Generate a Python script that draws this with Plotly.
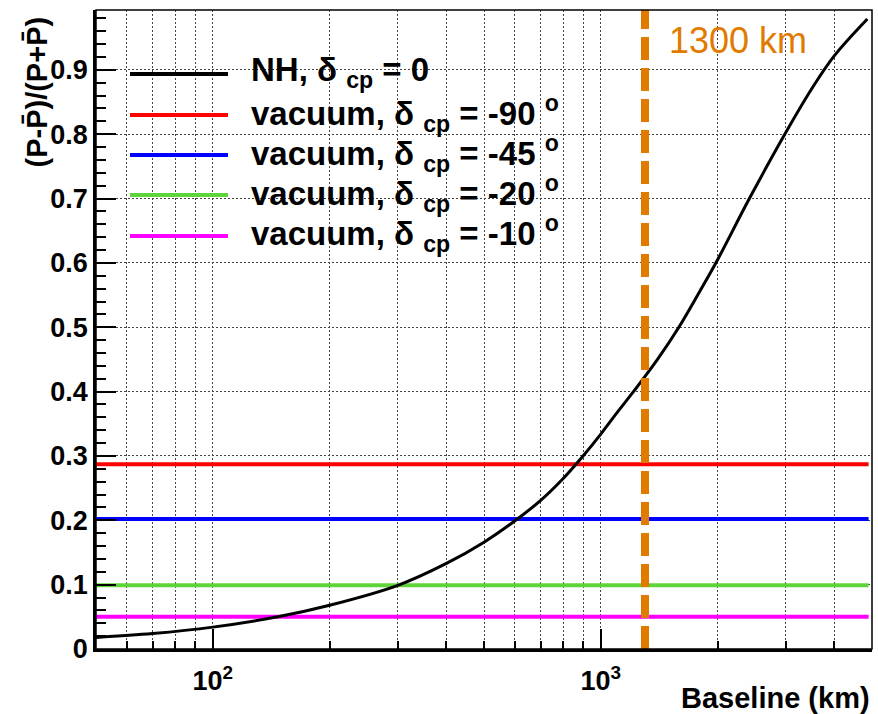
import math
import plotly.graph_objects as go

# ---- data ----
baseline_km = [50, 70, 100, 147, 200, 300, 400, 500, 600, 700, 800, 900, 1000, 1100,
               1218, 1400, 1589, 1800, 2000, 2415, 3000, 3500, 4000, 4864]
asym_nh = [0.018, 0.024, 0.034, 0.050, 0.068, 0.099, 0.133, 0.166, 0.199, 0.231,
           0.265, 0.300, 0.334, 0.367, 0.401, 0.450, 0.500, 0.556, 0.605, 0.700,
           0.803, 0.871, 0.922, 0.979]
nh_label = "NH, δ <sub>cp</sub> = 0"

vacuum_delta = ["-90", "-45", "-20", "-10"]
vacuum_asym = [0.287, 0.202, 0.099, 0.050]
vacuum_span_km = [50, 4900]

marker_km = 1300
marker_label = "1300 km"

y_ticks = [0, 0.1, 0.2, 0.3, 0.4, 0.5, 0.6, 0.7, 0.8, 0.9]
y_ticktext = ["0", "0.1", "0.2", "0.3", "0.4", "0.5", "0.6", "0.7", "0.8", "0.9"]
x_major = [100, 1000]
x_major_text = ["10<sup>2</sup>", "10<sup>3</sup>"]
x_minor = [60, 70, 80, 90, 200, 300, 400, 500, 600, 700, 800, 900, 2000, 3000, 4000]
x_range = [50, 5000]
y_range = [0, 0.993]

# ---- styles ----
FONT = "Liberation Sans"
nh_color = "black"
vac_colors = ["#ff0000", "#0000ff", "#5fd33a", "#ff00ff"]
orange = "#e07b00"

W, H = 878, 714
ML, MR, MT, MB = 96, 6, 10, 65
PW, PH = W - ML - MR, H - MT - MB


def px2paper(px, py):
    return (px - ML) / PW, (H - MB - py) / PH


fig = go.Figure()

for val, col in zip(vacuum_asym, vac_colors):
    fig.add_trace(go.Scatter(x=vacuum_span_km, y=[val, val], mode="lines",
                             line=dict(color=col, width=4), showlegend=False,
                             hoverinfo="skip"))

fig.add_trace(go.Scatter(x=baseline_km, y=asym_nh, mode="lines",
                         line=dict(color=nh_color, width=3, shape="spline", smoothing=1.0),
                         showlegend=False))

fig.add_trace(go.Scatter(x=[marker_km, marker_km], y=y_range, mode="lines",
                         line=dict(color=orange, width=8, dash="23px,8px"),
                         showlegend=False, hoverinfo="skip"))

annotations = []
shapes = []

# 1300 km label
lx, ly = px2paper(667, 40)
annotations.append(dict(text=marker_label, xref="paper", yref="paper", x=lx, y=ly,
                        xanchor="left", yanchor="middle", showarrow=False,
                        font=dict(family=FONT, size=36, color=orange)))

# manual legend (long line samples like the original)
legend_names = [nh_label] + ["vacuum, δ <sub>cp</sub> = %s <sup>o</sup>" % d for d in vacuum_delta]
legend_colors = [nh_color] + vac_colors
row_y = [74, 115, 155, 195, 236]
for name, col, ry in zip(legend_names, legend_colors, row_y):
    x0, y0 = px2paper(130, ry)
    x1, _ = px2paper(228, ry)
    shapes.append(dict(type="line", xref="paper", yref="paper", x0=x0, x1=x1, y0=y0, y1=y0,
                       line=dict(color=col, width=4)))
    tx, ty = px2paper(249, ry - 2)
    annotations.append(dict(text=name, xref="paper", yref="paper", x=tx, y=ty,
                            xanchor="left", yanchor="middle", showarrow=False,
                            font=dict(family=FONT, size=33, color="black", weight="bold")))

# y axis title (top aligned, rotated)
annotations.append(dict(text="(P-P\u0304)/(P+P\u0304)", xref="paper", yref="paper",
                        x=(36 - ML) / PW, y=px2paper(0, 15)[1], xanchor="center", yanchor="top",
                        textangle=-90, showarrow=False,
                        font=dict(family=FONT, size=29, color="black", weight="bold")))
# x axis title (right aligned)
annotations.append(dict(text="Baseline (km)", xref="paper", yref="paper",
                        x=1.0, y=-(698 - (H - MB)) / PH, xanchor="right", yanchor="middle",
                        showarrow=False,
                        font=dict(family=FONT, size=29, color="black", weight="bold")))

# thin frame on top/right
shapes.append(dict(type="rect", xref="paper", yref="paper", x0=0, x1=1, y0=0, y1=1,
                   line=dict(color="black", width=1.5)))

grid_dash = "2px,2px"
fig.update_layout(
    width=W, height=H,
    margin=dict(l=ML, r=MR, t=MT, b=MB),
    paper_bgcolor="white", plot_bgcolor="white",
    showlegend=False,
    annotations=annotations, shapes=shapes,
    xaxis=dict(type="log", range=[math.log10(x_range[0]), math.log10(x_range[1])],
               tickmode="array", tickvals=x_major, ticktext=x_major_text,
               ticks="inside", ticklen=20, tickwidth=1.5, tickcolor="black",
               showline=True, linecolor="black", linewidth=2.5,
               showgrid=True, gridcolor="#444", gridwidth=1, griddash=grid_dash,
               tickfont=dict(family=FONT, size=27, color="black", weight="bold"),
               ticklabelstandoff=6,
               minor=dict(tickmode="array", tickvals=x_minor, ticks="inside", ticklen=8,
                          tickwidth=1.5, tickcolor="black", showgrid=True,
                          gridcolor="#444", gridwidth=1, griddash=grid_dash),
               zeroline=False),
    yaxis=dict(range=y_range, tickmode="array", tickvals=y_ticks, ticktext=y_ticktext,
               ticks="inside", ticklen=20, tickwidth=1.5, tickcolor="black",
               showline=True, linecolor="black", linewidth=2.5,
               showgrid=True, gridcolor="#444", gridwidth=1, griddash=grid_dash,
               tickfont=dict(family=FONT, size=27, color="black", weight="bold"),
               minor=dict(dtick=0.02, ticks="inside", ticklen=10, tickwidth=1.5,
                          tickcolor="black", showgrid=False),
               zeroline=False),
)

fig.write_html("out.html", config={"displayModeBar": False},
               post_script="document.body.style.margin='0';document.body.style.padding='0';")
